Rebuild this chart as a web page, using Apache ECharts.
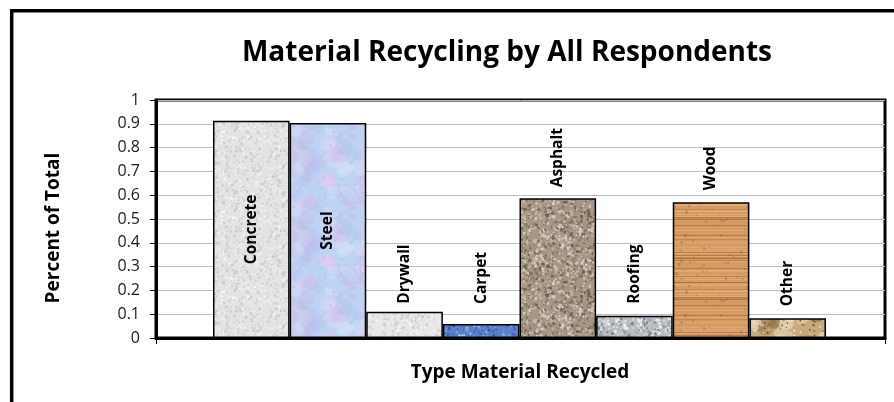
<!DOCTYPE html>
<html>
<head>
<meta charset="utf-8">
<script src="https://cdn.jsdelivr.net/npm/echarts@6/dist/echarts.min.js"></script>
<style>
html,body{margin:0;padding:0;background:#fff;}
#chart{width:894px;height:402px;}
</style>
</head>
<body>
<div id="chart"></div>
<script>
// ---- data ----
var categories = ['Concrete', 'Steel', 'Drywall', 'Carpet', 'Asphalt', 'Roofing', 'Wood', 'Other'];
var values = [0.913, 0.903, 0.110, 0.059, 0.587, 0.094, 0.570, 0.083];
var yTicks = [0, 0.1, 0.2, 0.3, 0.4, 0.5, 0.6, 0.7, 0.8, 0.9, 1];

// ---- styles (textures & label gaps) ----
var labelGap = [0, 0, 8, 20, 11, 12, 12, 12];

function rng(seed) {
  var s = seed >>> 0;
  return function () {
    s = (s * 1664525 + 1013904223) >>> 0;
    return s / 4294967296;
  };
}
function texture(kind, seed) {
  var N = 80;
  var c = document.createElement('canvas');
  c.width = N; c.height = N;
  var g = c.getContext('2d');
  var r = rng(seed);
  function fill(col){ g.fillStyle = col; g.fillRect(0,0,N,N); }
  function wrap(fn){
    for (var dx=-N; dx<=N; dx+=N) for (var dy=-N; dy<=N; dy+=N) fn(dx,dy);
  }
  function speck(cols, n, smin, smax){
    for (var i=0;i<n;i++){
      var col = cols[Math.floor(r()*cols.length)];
      var s = smin + r()*(smax-smin);
      var x = r()*N, y = r()*N, h = s*(0.6+r()*0.8);
      g.fillStyle = col;
      wrap(function(dx,dy){ g.fillRect(x+dx, y+dy, s, h); });
    }
  }
  function blob(cols, n, rmin, rmax, alpha){
    g.globalAlpha = alpha;
    for (var i=0;i<n;i++){
      var col = cols[Math.floor(r()*cols.length)];
      var x = r()*N, y = r()*N, rx = rmin + r()*(rmax-rmin), ry = rmin + r()*(rmax-rmin), rot = r()*3;
      g.fillStyle = col;
      wrap(function(dx,dy){
        g.beginPath();
        g.ellipse(x+dx, y+dy, rx, ry, rot, 0, Math.PI*2);
        g.fill();
      });
    }
    g.globalAlpha = 1;
  }
  if (kind === 'concrete') { fill('#e3e3e3'); speck(['#d0d0d0','#f4f4f4','#c8c8c8','#ececec'], 700, 1, 2.5); }
  else if (kind === 'steel') { fill('#bcd3f2'); blob(['#e6c8ee','#a9c6f0','#d8e4f8','#c9b8ea'], 60, 4, 10, 0.4); speck(['#b0c8ee','#dcd0f0'], 200, 1, 2); }
  else if (kind === 'drywall') { fill('#e8e8e8'); speck(['#d6d6d6','#f6f6f6','#cdcdcd'], 650, 1, 2.5); }
  else if (kind === 'carpet') { fill('#5a80cc'); speck(['#2f50a0','#8eaae0','#3c62b4','#b4c8ee'], 500, 1, 2.5); }
  else if (kind === 'asphalt') { fill('#a59686'); speck(['#d9cdc0','#6f6154','#8a7b6c','#c4b6a6'], 900, 1, 2.8); }
  else if (kind === 'roofing') { fill('#b9bdc2'); speck(['#eceef0','#7d828a','#9a9ea6','#d6d9dc'], 800, 1, 3); }
  else if (kind === 'wood') {
    fill('#d59b63');
    for (var y=0;y<N;y+=1){
      var t = r();
      if (t < 0.22) { g.fillStyle = 'rgba(150,90,40,' + (0.25 + r()*0.35) + ')'; g.fillRect(0,y,N,1); }
      else if (t < 0.42) { g.fillStyle = 'rgba(235,185,135,0.5)'; g.fillRect(0,y,N,1); }
    }
    speck(['rgba(140,85,40,0.3)'], 60, 1, 3);
  }
  else if (kind === 'other') { fill('#c9aa7c'); blob(['#8c6a3e','#ead9b6','#a8824e','#f2e6cc'], 50, 3, 9, 0.55); speck(['#6f5230','#efe2c6'], 200, 1, 2); }
  return c;
}
var kinds = ['concrete','steel','drywall','carpet','asphalt','roofing','wood','other'];
var textures = kinds.map(function(k,i){ return texture(k, 17 + i*101); });

var FONT = '"Open Sans", "Noto Sans", sans-serif';

var barData = values.map(function (v, i) {
  var inside = v > 0.75;
  return {
    value: v,
    itemStyle: { color: { image: textures[i], repeat: 'repeat' } },
    label: inside ? {
      position: 'inside', rotate: 90, align: 'center', verticalAlign: 'middle'
    } : {
      position: 'top', rotate: 90, align: 'left', verticalAlign: 'middle', distance: labelGap[i]
    }
  };
});

var chart = echarts.init(document.getElementById('chart'), null, { renderer: 'canvas' });
chart.setOption({
  animation: false,
  backgroundColor: '#ffffff',
  grid: [
    { left: 156, right: 9, top: 100, bottom: 64, show: true, borderColor: '#000', borderWidth: 3, backgroundColor: 'transparent' },
    { left: 213, right: 68, top: 100, bottom: 64 }
  ],
  xAxis: [
    { type: 'category', gridIndex: 0, data: [''], boundaryGap: true,
      axisLine: { show: true, lineStyle: { color: '#000', width: 3 } },
      axisTick: { show: true, length: 6, lineStyle: { color: '#000', width: 1 } },
      axisLabel: { show: false } },
    { type: 'category', gridIndex: 1, data: categories, show: false }
  ],
  yAxis: [
    { type: 'value', gridIndex: 0, min: yTicks[0], max: yTicks[yTicks.length-1], interval: 0.1,
      axisLine: { show: true, lineStyle: { color: '#000', width: 3 } },
      axisTick: { show: true, length: 6, lineStyle: { color: '#000', width: 1 } },
      splitLine: { show: true, lineStyle: { color: '#bdbdbd', width: 1 } },
      axisLabel: { margin: 16, color: '#1a1a1a', fontFamily: FONT, fontSize: 16,
        formatter: function (v) { return String(+v.toFixed(1)); } } },
    { type: 'value', gridIndex: 1, min: 0, max: 1, show: false, splitLine: { show: false } }
  ],
  series: [{
    type: 'bar', xAxisIndex: 1, yAxisIndex: 1,
    barCategoryGap: '0%', barGap: '0%',
    itemStyle: { borderColor: '#000', borderWidth: 1.5 },
    label: { show: true, color: '#000', fontFamily: FONT, fontSize: 15.5, fontWeight: 'bold',
      formatter: function (p) { return categories[p.dataIndex]; } },
    data: barData
  }],
  graphic: [
    { type: 'rect', silent: true, z: 100,
      shape: { x: 11.7, y: 10.7, width: 940, height: 440 },
      style: { fill: 'none', stroke: '#000', lineWidth: 3.5 } },
    { type: 'text', silent: true, z: 100,
      style: { text: 'Material Recycling by All Respondents', x: 507, y: 53, textAlign: 'center', textVerticalAlign: 'middle',
        fill: '#000', font: 'bold 28px ' + FONT } },
    { type: 'text', silent: true, z: 100,
      style: { text: 'Type Material Recycled', x: 520, y: 373, textAlign: 'center', textVerticalAlign: 'middle',
        fill: '#000', font: 'bold 19px ' + FONT } },
    { type: 'text', silent: true, z: 100, x: 54, y: 228, rotation: Math.PI/2,
      style: { text: 'Percent of Total', x: 0, y: 0, textAlign: 'center', textVerticalAlign: 'middle',
        fill: '#000', font: 'bold 19px ' + FONT } }
  ]
});
</script>
</body>
</html>
